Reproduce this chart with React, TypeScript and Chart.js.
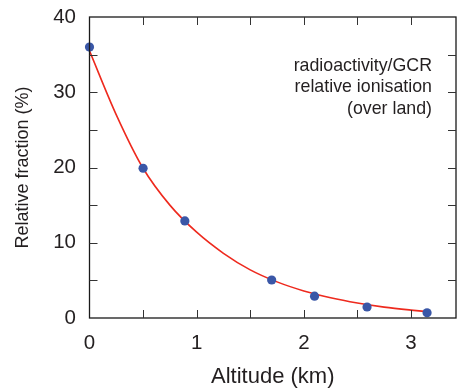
import React, { useEffect, useRef } from "react";
import { Chart, registerables } from "chart.js";

Chart.register(...registerables);

const altitudeKm = [0, 0.5, 0.89, 1.7, 2.1, 2.59, 3.15];
const relativeFraction = [36.0, 19.9, 12.9, 5.05, 2.9, 1.46, 0.7];

const fitAltitudeKm = [0, 0.25, 0.5, 0.75, 1.0, 1.25, 1.5, 1.75, 2.0, 2.25, 2.5, 2.75, 3.0, 3.15];
const fitFraction = [35.5, 27.0, 19.9, 15.0, 11.4, 8.6, 6.4, 4.8, 3.6, 2.7, 2.0, 1.45, 1.05, 0.85];

const xTickValues = [0, 0.5, 1, 1.5, 2, 2.5, 3];
const yTickValues = [0, 5, 10, 15, 20, 25, 30, 35, 40];

const annotationLines = ["radioactivity/GCR", "relative ionisation", "(over land)"];
const xTitle = "Altitude (km)";
const yTitle = "Relative fraction (%)";

const FONT = "'Liberation Sans', Arial, Helvetica, sans-serif";
const TEXT = "#231f20";

const frame = {
  id: "frame",
  afterDraw(chart: any) {
    const { ctx, chartArea: a, scales } = chart;
    const x = scales.x;
    const y = scales.y;
    ctx.save();
    ctx.strokeStyle = "#1a1a1a";
    ctx.lineWidth = 1.3;
    ctx.strokeRect(a.left, a.top, a.right - a.left, a.bottom - a.top);
    ctx.lineWidth = 1;
    ctx.strokeStyle = "#333";
    const tl = 8;
    x.ticks.forEach((t: any) => {
      const px = Math.round(x.getPixelForValue(t.value)) + 0.5;
      if (px <= a.left + 1 || px >= a.right - 1) return;
      ctx.beginPath();
      ctx.moveTo(px, a.bottom);
      ctx.lineTo(px, a.bottom - tl);
      ctx.moveTo(px, a.top);
      ctx.lineTo(px, a.top + tl);
      ctx.stroke();
    });
    y.ticks.forEach((t: any) => {
      const py = Math.round(y.getPixelForValue(t.value)) + 0.5;
      if (py <= a.top + 1 || py >= a.bottom - 1) return;
      ctx.beginPath();
      ctx.moveTo(a.left, py);
      ctx.lineTo(a.left + tl, py);
      ctx.moveTo(a.right, py);
      ctx.lineTo(a.right - tl, py);
      ctx.stroke();
    });
    // annotation
    ctx.fillStyle = TEXT;
    ctx.font = `17.8px ${FONT}`;
    ctx.textAlign = "right";
    ctx.textBaseline = "middle";
    const ax = a.right - 24;
    annotationLines.forEach((line, i) => {
      ctx.fillText(line, ax, y.getPixelForValue(33.5) + i * 21.5);
    });
    ctx.restore();
  },
};

export default function App() {
  const ref = useRef<HTMLCanvasElement>(null);
  useEffect(() => {
    document.body.style.margin = "0";
    const chart = new Chart(ref.current!, {
      type: "scatter",
      data: {
        datasets: [
          {
            data: altitudeKm.map((v, i) => ({ x: v, y: relativeFraction[i] })),
            backgroundColor: "#3a57a7",
            borderColor: "#3a57a7",
            pointRadius: 4.6,
            borderWidth: 0,
            showLine: false,
            clip: false,
            order: 0,
          } as any,
          {
            data: fitAltitudeKm.map((v, i) => ({ x: v, y: fitFraction[i] })),
            showLine: true,
            borderColor: "#ee2a1e",
            borderWidth: 1.6,
            pointRadius: 0,
            cubicInterpolationMode: "monotone",
            fill: false,
            order: 1,
          } as any,
        ],
      },
      options: {
        responsive: false,
        animation: false,
        layout: { autoPadding: false, padding: { top: 17, right: 1, left: 0, bottom: 0 } },
        plugins: { legend: { display: false }, tooltip: { enabled: false } },
        scales: {
          x: {
            type: "linear",
            min: 0,
            max: 3.42,
            grid: { display: false, drawTicks: false },
            border: { display: false },
            afterBuildTicks: (s: any) => {
              s.ticks = xTickValues.map((v) => ({ value: v }));
            },
            afterFit: (s: any) => {
              s.height = 72;
              s.paddingLeft = 0;
              s.paddingRight = 0;
            },
            ticks: {
              autoSkip: false,
              maxRotation: 0,
              padding: 13,
              color: TEXT,
              font: { family: FONT, size: 20.5 },
              callback: (v: any) => (Math.abs(v - Math.round(v)) < 1e-6 ? String(Math.round(v)) : ""),
            },
            title: {
              display: true,
              text: xTitle,
              color: TEXT,
              font: { family: FONT, size: 22 },
              padding: { top: 4, bottom: 0 },
            },
          },
          y: {
            type: "linear",
            min: 0,
            max: 40,
            grid: { display: false, drawTicks: false },
            border: { display: false },
            afterBuildTicks: (s: any) => {
              s.ticks = yTickValues.map((v) => ({ value: v }));
            },
            afterFit: (s: any) => {
              s.width = 89.5;
              s.paddingTop = 0;
              s.paddingBottom = 0;
            },
            ticks: {
              autoSkip: false,
              padding: 13.5,
              color: TEXT,
              font: { family: FONT, size: 20.5 },
              callback: (v: any) => (v % 10 === 0 ? String(v) : ""),
            },
            title: {
              display: true,
              text: yTitle,
              color: TEXT,
              font: { family: FONT, size: 18 },
              padding: { top: 12, bottom: 0 },
            },
          },
        },
      },
      plugins: [frame],
    });
    return () => chart.destroy();
  }, []);
  return (
    <canvas
      ref={ref}
      width={457}
      height={390}
      style={{ position: "absolute", left: 0, top: 0, width: 457, height: 390 }}
    />
  );
}
